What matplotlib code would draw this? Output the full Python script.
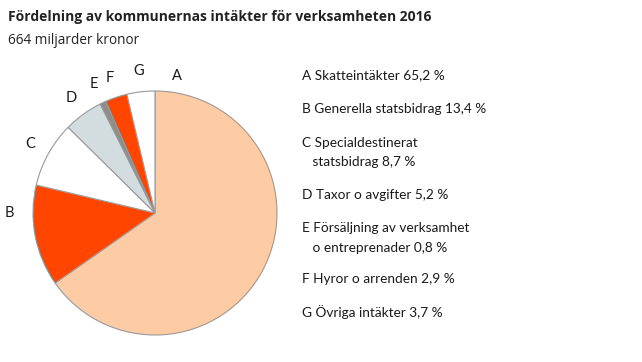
import matplotlib
matplotlib.use("Agg")
import matplotlib.pyplot as plt
import numpy as np

letters = ["A", "B", "C", "D", "E", "F", "G"]
names = ["Skatteintäkter", "Generella statsbidrag", "Specialdestinerat\n   statsbidrag",
         "Taxor o avgifter", "Försäljning av verksamhet\n   o entreprenader", "Hyror o arrenden",
         "Övriga intäkter"]
values = [65.2, 13.4, 8.7, 5.2, 0.8, 2.9, 3.7]
colors = ["#FDCBA4", "#FF4500", "#FFFFFF", "#D3DDE0", "#8E8E86", "#FF4500", "#FFFFFF"]

W, H = 642, 362
fig = plt.figure(figsize=(W / 100, H / 100), dpi=100)

cx, cy, r = 155, 213, 122
ax = fig.add_axes([(cx - r) / W, (H - cy - r) / H, 2 * r / W, 2 * r / H])
wedges, texts = ax.pie(values, colors=colors, startangle=90, counterclock=False,
                       labels=letters, labeldistance=1.17,
                       wedgeprops=dict(edgecolor="#9a9a9a", linewidth=0.8),
                       textprops=dict(fontsize=10.5, family="Lato", color="#1a1a1a"))
for t in texts:
    t.set_ha("center")
    t.set_va("center")
# custom positions for A and B labels
ang = np.deg2rad(81)
texts[0].set_position((1.14 * np.cos(ang), 1.14 * np.sin(ang)))
texts[1].set_position((-1.19, 0.0))
ax.set_xlim(-1, 1)
ax.set_ylim(-1, 1)
ax.set_aspect("equal")
ax.axis("off")

fig.text(8 / W, 1 - 17 / H, "Fördelning av kommunernas intäkter för verksamheten 2016",
         fontsize=10, fontweight="bold", family="Open Sans", color="#222222", va="center")
fig.text(8 / W, 1 - 40 / H, "664 miljarder kronor",
         fontsize=9.8, family="Open Sans", color="#222222", va="center")

ys = [76, 110, 144, 196, 229, 280, 312]
for l, n, v, y in zip(letters, names, values, ys):
    s = f"{l} {n} {str(v).replace('.', ',')} %"
    fig.text(302 / W, 1 - (y - 7) / H, s, fontsize=9.8, family="Lato", color="#1a1a1a",
             va="top", linespacing=1.75)

fig.savefig("out.png", dpi=100, facecolor="white")
